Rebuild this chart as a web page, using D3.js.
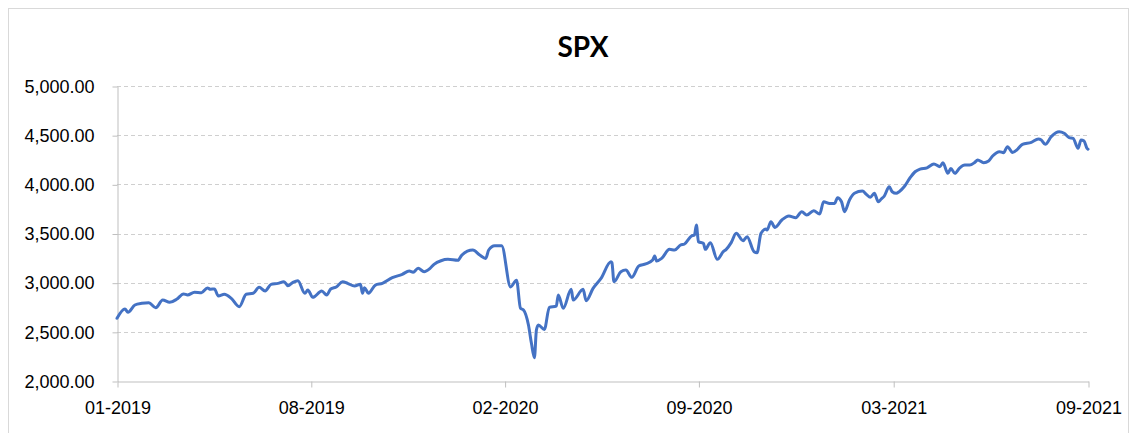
<!DOCTYPE html>
<html>
<head>
<meta charset="utf-8">
<script src="https://d3js.org/d3.v7.min.js"></script>
<style>
  body { margin: 0; background: #fff; }
  svg { display: block; font-family: Lato, "Open Sans", sans-serif; }
</style>
</head>
<body>
<div id="chart"></div>
<script>
// dates and closes of the SPX line
const dates = [
  "2019-01-28","2019-02-05","2019-02-08","2019-02-15","2019-02-22","2019-03-01","2019-03-08","2019-03-15",
  "2019-03-22","2019-03-29","2019-04-05","2019-04-09","2019-04-16","2019-04-23","2019-04-29","2019-05-02",
  "2019-05-06","2019-05-10","2019-05-16","2019-05-23","2019-05-31","2019-06-07","2019-06-14","2019-06-20",
  "2019-06-26","2019-07-02","2019-07-09","2019-07-15","2019-07-19","2019-07-24","2019-07-29","2019-08-05",
  "2019-08-08","2019-08-13","2019-08-22","2019-08-27","2019-08-31","2019-09-06","2019-09-12","2019-09-17",
  "2019-09-24","2019-09-30","2019-10-02","2019-10-04","2019-10-08","2019-10-15","2019-10-22","2019-11-01",
  "2019-11-11","2019-11-18","2019-11-22","2019-11-27","2019-12-03","2019-12-09","2019-12-13","2019-12-20",
  "2019-12-27","2020-01-06","2020-01-10","2020-01-21","2020-01-28","2020-02-03","2020-02-06","2020-02-12",
  "2020-02-19","2020-02-28","2020-03-05","2020-03-09","2020-03-12","2020-03-17","2020-03-20","2020-03-23",
  "2020-03-25","2020-03-27","2020-04-02","2020-04-07","2020-04-14","2020-04-16","2020-04-21","2020-04-29",
  "2020-05-01","2020-05-11","2020-05-14","2020-05-21","2020-05-29","2020-06-08","2020-06-09","2020-06-11",
  "2020-06-18","2020-06-23","2020-06-29","2020-07-06","2020-07-13","2020-07-20","2020-07-22","2020-07-24",
  "2020-07-29","2020-08-06","2020-08-11","2020-08-17","2020-08-21","2020-08-28","2020-08-31","2020-09-02",
  "2020-09-04","2020-09-09","2020-09-11","2020-09-16","2020-09-23","2020-09-29","2020-10-02","2020-10-07",
  "2020-10-12","2020-10-19","2020-10-23","2020-10-30","2020-11-02","2020-11-06","2020-11-11","2020-11-12",
  "2020-11-16","2020-11-20","2020-11-27","2020-12-04","2020-12-11","2020-12-17","2020-12-22","2020-12-29",
  "2021-01-04","2021-01-08","2021-01-14","2021-01-19","2021-01-22","2021-01-26","2021-01-29","2021-02-03",
  "2021-02-08","2021-02-16","2021-02-20","2021-02-24","2021-02-28","2021-03-04","2021-03-07","2021-03-10",
  "2021-03-15","2021-03-18","2021-03-22","2021-03-25","2021-03-30","2021-04-05","2021-04-10","2021-04-15",
  "2021-04-22","2021-04-29","2021-05-05","2021-05-08","2021-05-13","2021-05-16","2021-05-20","2021-05-25",
  "2021-05-30","2021-06-04","2021-06-09","2021-06-12","2021-06-18","2021-06-23","2021-06-27","2021-07-04",
  "2021-07-08","2021-07-12","2021-07-17","2021-07-22","2021-07-27","2021-08-05","2021-08-12","2021-08-15",
  "2021-08-19","2021-08-25","2021-09-02","2021-09-07","2021-09-12","2021-09-16","2021-09-21","2021-09-24",
  "2021-09-27","2021-09-30","2021-10-01"
];
const closes = [
  2638,2732,2699,2773,2790,2796,2745,2824,
  2800,2831,2885,2875,2902,2898,2946,2933,
  2936,2865,2882,2841,2756,2882,2892,2953,
  2915,2983,2993,3010,2969,3003,3020,2892,
  2925,2851,2915,2875,2936,2959,3010,2993,
  2966,2983,2892,2949,2892,2976,2993,3051,
  3085,3118,3105,3146,3112,3146,3186,3223,
  3237,3227,3281,3332,3281,3247,3332,3376,
  3376,2957,3025,2739,2722,2569,2383,2237,
  2518,2569,2525,2749,2762,2875,2739,2932,
  2823,2932,2816,2942,3044,3213,3203,3010,
  3112,3129,3054,3169,3190,3230,3271,3220,
  3247,3339,3332,3383,3393,3475,3485,3587,
  3417,3400,3339,3407,3237,3315,3339,3407,
  3502,3427,3468,3315,3305,3502,3545,3535,
  3620,3562,3637,3678,3661,3722,3688,3732,
  3698,3823,3806,3806,3864,3823,3722,3841,
  3909,3932,3898,3868,3909,3823,3851,3881,
  3975,3925,3909,3925,3975,4067,4128,4155,
  4168,4206,4180,4220,4112,4162,4112,4168,
  4196,4196,4223,4247,4220,4237,4288,4332,
  4322,4383,4325,4356,4407,4427,4461,4451,
  4407,4485,4535,4519,4475,4468,4366,4451,
  4440,4366,4357
];
const yTicks = [2000, 2500, 3000, 3500, 4000, 4500, 5000];
const xTickDates = ["2019-01-28","2019-08-11","2020-02-22","2020-09-04","2021-03-19","2021-10-01"];
const xTickLabels = ["01-2019","08-2019","02-2020","09-2020","03-2021","09-2021"];
const title = "SPX";

const width = 1137, height = 433;
const margin = {top: 86, right: 49, bottom: 52, left: 117};

const parse = d3.timeParse("%Y-%m-%d");
const data = dates.map((d, i) => ({date: parse(d), value: closes[i]}));

const svg = d3.select("#chart").append("svg")
  .attr("width", width)
  .attr("height", height);

// chart area border
svg.append("rect")
  .attr("x", 8.5).attr("y", 8.5)
  .attr("width", 1120).attr("height", 440)
  .attr("fill", "none")
  .attr("stroke", "#d9d9d9");

const x = d3.scaleTime()
  .domain([parse(xTickDates[0]), parse(xTickDates[xTickDates.length - 1])])
  .range([margin.left, width - margin.right]);
const y = d3.scaleLinear()
  .domain([2000, 5000])
  .range([height - margin.bottom, margin.top]);

// gridlines
svg.append("g")
  .selectAll("line")
  .data(yTicks.slice(1))
  .join("line")
  .attr("x1", margin.left).attr("x2", width - margin.right)
  .attr("y1", d => Math.round(y(d)) + 0.5).attr("y2", d => Math.round(y(d)) + 0.5)
  .attr("stroke", "#cfcfcf")
  .attr("stroke-dasharray", "4,3");

// y axis
const yAxis = svg.append("g")
  .attr("transform", `translate(${margin.left + 0.5},0.5)`)
  .call(d3.axisLeft(y).tickValues(yTicks).tickFormat(d3.format(",.2f")).tickSizeInner(5).tickSizeOuter(0).tickPadding(18));
yAxis.select(".domain").attr("stroke", "#bfbfbf");
yAxis.selectAll(".tick line").attr("stroke", "#bfbfbf");
yAxis.selectAll("text").attr("font-size", "18px").attr("fill", "#000");

// x axis
const xAxis = svg.append("g")
  .attr("transform", `translate(0.5,${height - margin.bottom + 0.5})`)
  .call(d3.axisBottom(x)
    .tickValues(xTickDates.map(parse))
    .tickFormat((d, i) => xTickLabels[i])
    .tickSizeInner(6).tickSizeOuter(0).tickPadding(14));
xAxis.select(".domain").attr("stroke", "#bfbfbf");
xAxis.selectAll(".tick line").attr("stroke", "#bfbfbf");
xAxis.selectAll("text").attr("font-size", "18px").attr("fill", "#000");

// the line
const line = d3.line()
  .x(d => x(d.date))
  .y(d => y(d.value))
  .curve(d3.curveMonotoneX);

svg.append("path")
  .datum(data)
  .attr("d", line)
  .attr("fill", "none")
  .attr("stroke", "#4472C4")
  .attr("stroke-width", 3)
  .attr("stroke-linejoin", "round")
  .attr("stroke-linecap", "round");

// title
svg.append("text")
  .attr("x", 583).attr("y", 57)
  .attr("text-anchor", "middle")
  .attr("font-size", "28px")
  .attr("font-weight", "bold")
  .attr("fill", "#000")
  .text(title);
</script>
</body>
</html>
